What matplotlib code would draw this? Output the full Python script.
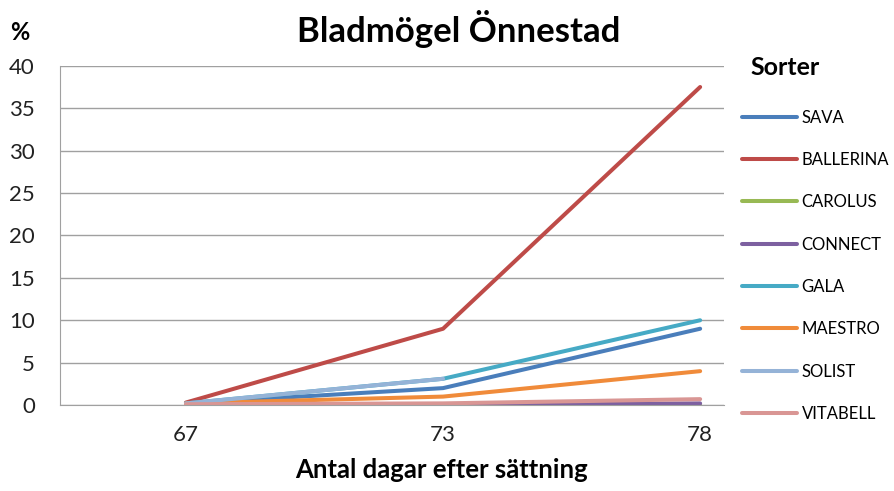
import matplotlib.pyplot as plt
import numpy as np

plt.rcParams['font.family'] = ['Lato', 'DejaVu Sans']

# data
days = ["67", "73", "78"]
sava = [0.2, 2.0, 9.0]
ballerina = [0.3, 9.0, 37.5]
carolus = [0.0, 0.0, 0.0]
connect = [0.0, 0.0, 0.2]
gala = [0.2, 3.1, 10.0]
maestro = [0.2, 1.0, 4.0]
solist = [0.2, 3.1, np.nan]   # no value at 78
vitabell = [0.1, 0.2, 0.7]

series = [("SAVA", sava, "#4A7EBB"),
          ("BALLERINA", ballerina, "#BE4B48"),
          ("CAROLUS", carolus, "#98B954"),
          ("CONNECT", connect, "#7D60A0"),
          ("GALA", gala, "#46AAC5"),
          ("MAESTRO", maestro, "#F08B3A"),
          ("SOLIST", solist, "#95B3D7"),
          ("VITABELL", vitabell, "#D99694")]

fig = plt.figure(figsize=(8.95, 4.91), dpi=100)
ax = fig.add_axes([0.067, 0.175, 0.742, 0.691])

x = np.arange(len(days))
for name, vals, col in series:
    ax.plot(x, vals, color=col, lw=2.9, label=name, solid_capstyle='round')

ax.set_ylim(0, 40)
ax.set_yticks(range(0, 41, 5))
ax.set_xlim(-0.49, 2.093)
ax.set_xticks(x)
ax.set_xticklabels(days)
ax.tick_params(axis='y', length=0, pad=18, labelsize=16, colors='#222222')
ax.tick_params(axis='x', length=0, pad=14.5, labelsize=16, colors='#222222')
ax.grid(axis='y', color='#A0A0A0', lw=1)
ax.set_axisbelow(True)
for s in ['top', 'right']:
    ax.spines[s].set_visible(False)
for s in ['left', 'bottom']:
    ax.spines[s].set_color('#A0A0A0')

fig.text(0.513, 0.94, "Bladmögel Önnestad", ha='center', va='center',
         fontsize=25, fontweight='bold')
fig.text(0.022, 0.933, "%", ha='center', va='center', fontsize=17, fontweight='bold')
fig.text(0.493, 0.042, "Antal dagar efter sättning", ha='center', va='center',
         fontsize=18.5, fontweight='bold')
fig.text(0.838, 0.862, "Sorter", ha='left', va='center', fontsize=18, fontweight='bold')

leg = ax.legend(loc='upper left', bbox_to_anchor=(1.005, 0.915), frameon=False,
                fontsize=12, handlelength=3.3, handletextpad=0.25, labelspacing=1.58)

fig.savefig("out.png", dpi=100)
